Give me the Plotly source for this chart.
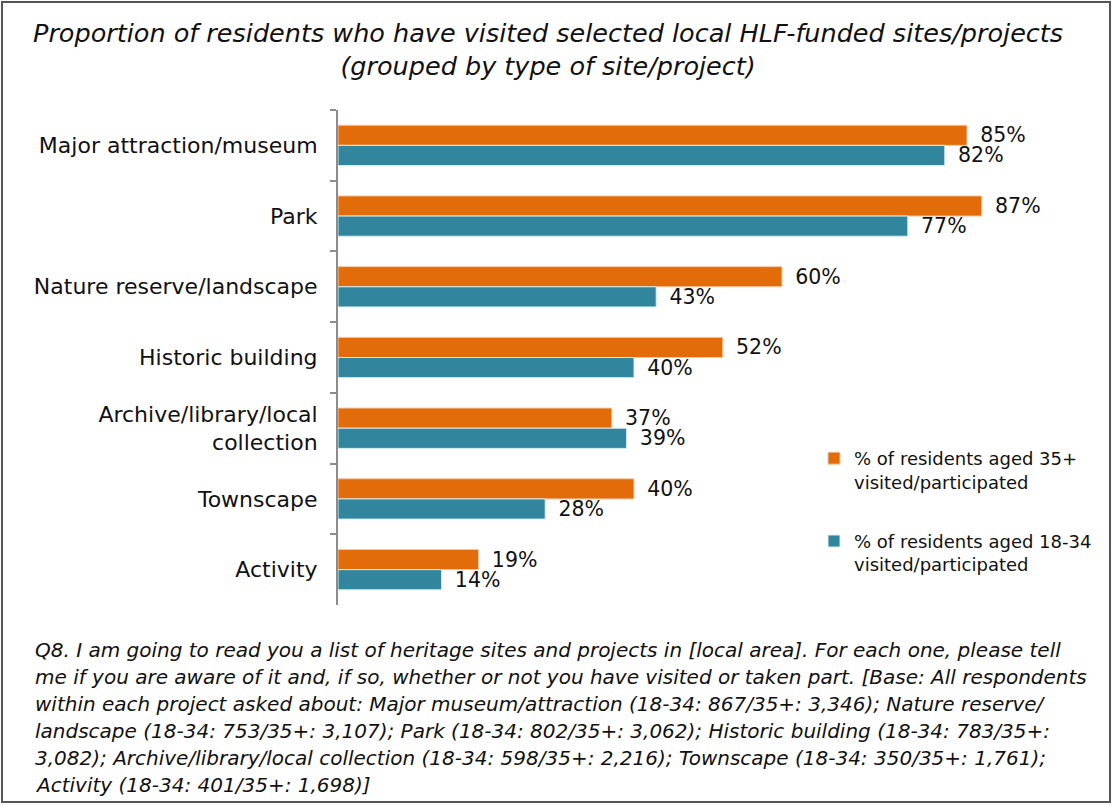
import plotly.graph_objects as go

# Site/project types, top to bottom
categories = [
    "Major attraction/museum",
    "Park",
    "Nature reserve/landscape",
    "Historic building",
    "Archive/library/local<br>collection",
    "Townscape",
    "Activity",
]
aged_35_plus = [85, 87, 60, 52, 37, 40, 19]
aged_18_34 = [82, 77, 43, 40, 39, 28, 14]

series_35_name = "% of residents aged 35+<br>visited/participated"
series_18_name = "% of residents aged 18-34<br>visited/participated"

footnote_lines = [
    "Q8. I am going to read you a list of heritage sites and projects in [local area]. For each one, please tell",
    "me if you are aware of it and, if so, whether or not you have visited or taken part. [Base: All respondents",
    "within each project asked about: Major museum/attraction (18-34: 867/35+: 3,346); Nature reserve/",
    "landscape (18-34: 753/35+: 3,107); Park (18-34: 802/35+: 3,062); Historic building (18-34: 783/35+:",
    "3,082); Archive/library/local collection (18-34: 598/35+: 2,216); Townscape (18-34: 350/35+: 1,761);",
    "Activity (18-34: 401/35+: 1,698)]",
]

ORANGE = "#E36C0A"
TEAL = "#31859C"

W, H = 1113, 805
L, R, T, B = 338, 35, 110, 200
plot_w = W - L - R
plot_h = H - T - B

label_font = dict(family="DejaVu Sans", size=20.5, color="#111111")
tick_font = dict(family="DejaVu Sans", size=22, color="#111111")
# en space keeps the value labels a little away from the bar ends
LABEL_TEMPLATE = "\u2002%{text}"

fig = go.Figure()
# y axis is reversed, so the first trace sits on top within each group
fig.add_trace(go.Bar(
    y=categories, x=aged_35_plus, orientation="h", name=series_35_name,
    legendgroup="older",
    marker=dict(color=ORANGE, line=dict(color="#f6c9a6", width=1)),
    text=[f"{v}%" for v in aged_35_plus], texttemplate=LABEL_TEMPLATE,
    textposition="outside", textfont=label_font, cliponaxis=False,
    constraintext="none",
))
fig.add_trace(go.Bar(
    y=categories, x=aged_18_34, orientation="h", name=series_18_name,
    legendgroup="younger",
    marker=dict(color=TEAL, line=dict(color="#d8eef3", width=1)),
    text=[f"{v}%" for v in aged_18_34], texttemplate=LABEL_TEMPLATE,
    textposition="outside", textfont=label_font, cliponaxis=False,
    constraintext="none",
))


def px_x(p):
    return (p - L) / plot_w


def px_y(p):
    return (H - B - p) / plot_h


annotations = [
    dict(
        text="<i>Proportion of residents who have visited selected local HLF-funded sites/projects<br>"
             "(grouped by type of site/project)</i>",
        xref="paper", yref="paper", x=px_x(548), y=px_y(16),
        xanchor="center", yanchor="top", showarrow=False, align="center",
        font=dict(family="DejaVu Sans", size=25.5, color="#111111"),
    ),
]
# footnote, one annotation per line to control the line spacing
for i, line in enumerate(footnote_lines):
    annotations.append(dict(
        text="<i>" + line + "</i>",
        xref="paper", yref="paper", x=px_x(33), y=px_y(650 + 27 * i),
        xanchor="left", yanchor="middle", showarrow=False, align="left",
        font=dict(family="DejaVu Sans", size=20, color="#111111"),
    ))

fig.update_layout(
    width=W, height=H,
    margin=dict(l=L, r=R, t=T, b=B),
    paper_bgcolor="white", plot_bgcolor="white",
    barmode="group", bargap=0.43, bargroupgap=0,
    showlegend=True,
    legend=dict(
        x=px_x(814), y=px_y(440), xanchor="left", yanchor="top",
        font=dict(family="DejaVu Sans", size=18, color="#111111"),
        tracegroupgap=33, itemwidth=30, valign="top",
        bgcolor="rgba(0,0,0,0)", traceorder="grouped",
    ),
    xaxis=dict(range=[0, 100], visible=False, fixedrange=True),
    yaxis=dict(
        autorange="reversed", showline=True, linecolor="#8c8c8c", linewidth=2,
        ticks="outside", tickson="boundaries", ticklen=6, tickcolor="#8c8c8c",
        tickwidth=2, tickfont=tick_font, showgrid=False, ticklabelstandoff=14,
    ),
    annotations=annotations,
    shapes=[
        dict(type="rect", xref="paper", yref="paper",
             x0=px_x(2), x1=px_x(W - 3), y0=px_y(H - 3), y1=px_y(2),
             line=dict(color="#555555", width=2), fillcolor="rgba(0,0,0,0)",
             layer="below"),
    ],
)

fig.write_html("out.html")
